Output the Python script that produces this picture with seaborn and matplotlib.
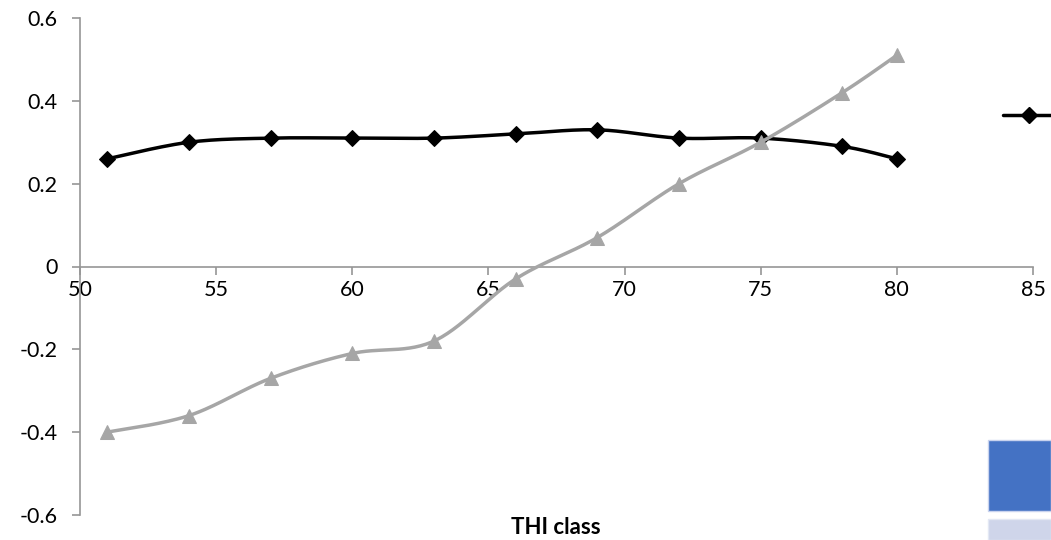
import numpy as np
import pandas as pd
import matplotlib
matplotlib.use("Agg")
import matplotlib.pyplot as plt
import seaborn as sns
from matplotlib.patches import Rectangle
from matplotlib.lines import Line2D

# ---- data ----
thi_class = [51, 54, 57, 60, 63, 66, 69, 72, 75, 78, 80]
series_black = [0.26, 0.30, 0.31, 0.31, 0.31, 0.32, 0.33, 0.31, 0.31, 0.29, 0.26]
series_gray = [-0.40, -0.36, -0.27, -0.21, -0.18, -0.03, 0.07, 0.20, 0.30, 0.42, 0.51]
x_ticks = [50, 55, 60, 65, 70, 75, 80, 85]
y_ticks = [-0.6, -0.4, -0.2, 0, 0.2, 0.4, 0.6]
y_tick_labels = ["-0.6", "-0.4", "-0.2", "0", "0.2", "0.4", "0.6"]
x_label = "THI class"


def smooth(xs, ys, n=30):
    """Catmull-Rom style smoothing (like Excel's smoothed line)."""
    xs = np.asarray(xs, float)
    ys = np.asarray(ys, float)
    px = np.concatenate([[xs[0]], xs, [xs[-1]]])
    py = np.concatenate([[ys[0]], ys, [ys[-1]]])
    out_x, out_y = [], []
    t = np.linspace(0, 1, n, endpoint=False)
    for i in range(1, len(px) - 2):
        p0x, p1x, p2x, p3x = px[i - 1], px[i], px[i + 1], px[i + 2]
        p0y, p1y, p2y, p3y = py[i - 1], py[i], py[i + 1], py[i + 2]
        c1x = p1x + (p2x - p0x) / 6
        c1y = p1y + (p2y - p0y) / 6
        c2x = p2x - (p3x - p1x) / 6
        c2y = p2y - (p3y - p1y) / 6
        bx = (1 - t) ** 3 * p1x + 3 * (1 - t) ** 2 * t * c1x + 3 * (1 - t) * t ** 2 * c2x + t ** 3 * p2x
        by = (1 - t) ** 3 * p1y + 3 * (1 - t) ** 2 * t * c1y + 3 * (1 - t) * t ** 2 * c2y + t ** 3 * p2y
        out_x.extend(bx)
        out_y.extend(by)
    out_x.append(xs[-1])
    out_y.append(ys[-1])
    return np.array(out_x), np.array(out_y)


sns.set_theme(style="white")
plt.rcParams["font.family"] = ["Lato", "DejaVu Sans"]

fig = plt.figure(figsize=(10.51, 5.40), dpi=100)
ax = fig.add_axes([80 / 1051, 1 - 515 / 540, (1033 - 80) / 1051, (515 - 18) / 540])

black = "#000000"
gray = "#A6A6A6"

bx, by = smooth(thi_class, series_black)
gx, gy = smooth(thi_class, series_gray)
df_b = pd.DataFrame({"x": bx, "y": by})
df_g = pd.DataFrame({"x": gx, "y": gy})

sns.lineplot(data=df_b, x="x", y="y", sort=False, color=black, lw=2.5, ax=ax, zorder=3)
sns.lineplot(x=thi_class, y=series_black, color=black, lw=0, marker="D",
             markersize=8.5, markeredgecolor=black, ax=ax, zorder=4)
sns.lineplot(data=df_g, x="x", y="y", sort=False, color=gray, lw=2.5, ax=ax, zorder=5)
sns.lineplot(x=thi_class, y=series_gray, color=gray, lw=0, marker="^",
             markersize=10.5, markeredgecolor=gray, ax=ax, zorder=6)

ax.set_xlim(50, 85)
ax.set_ylim(-0.6, 0.6)
ax.set_xticks(x_ticks)
ax.set_xticklabels([str(v) for v in x_ticks])
ax.set_yticks(y_ticks)
ax.set_yticklabels(y_tick_labels)

axis_col = "#969696"
for s in ["top", "right"]:
    ax.spines[s].set_visible(False)
ax.spines["left"].set_color(axis_col)
ax.spines["left"].set_linewidth(1.2)
ax.spines["bottom"].set_position(("data", 0))
ax.spines["bottom"].set_color(axis_col)
ax.spines["bottom"].set_linewidth(1.2)
ax.tick_params(axis="both", which="major", length=6, width=1.2, color=axis_col,
               labelsize=15.5, labelcolor="black", direction="out")
ax.tick_params(axis="y", pad=10, left=True)
ax.tick_params(axis="x", pad=4, bottom=True)
ax.set_xlabel("")
ax.set_ylabel("")

fig.text(556 / 1051, 1 - 528 / 540, x_label, ha="center", va="center",
         fontsize=16, fontweight="bold", color="black")

# clipped legend pieces at the right edge
fig.add_artist(Line2D([1003 / 1051, 1.0], [1 - 115 / 540, 1 - 115 / 540],
                      transform=fig.transFigure, color=black, lw=2.5))
fig.add_artist(Line2D([1029 / 1051], [1 - 115 / 540], transform=fig.transFigure,
                      color=black, marker="D", markersize=8.5, lw=0))
fig.add_artist(Rectangle((988 / 1051, 1 - 511 / 540), 63 / 1051, 71 / 540,
                         transform=fig.transFigure, facecolor="#4472C4",
                         edgecolor="#C9D3EE", lw=1))
fig.add_artist(Rectangle((988 / 1051, 0), 63 / 1051, 21 / 540,
                         transform=fig.transFigure, facecolor="#CFD5EA",
                         edgecolor="#E3E8F4", lw=1))

fig.savefig("out.png", dpi=100)
